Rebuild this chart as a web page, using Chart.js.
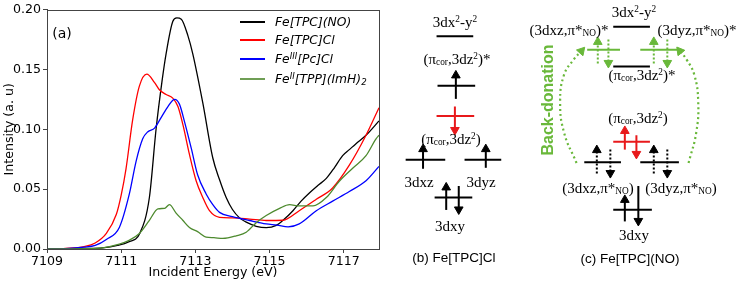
<!DOCTYPE html>
<html><head><meta charset="utf-8">
<script src="https://cdn.jsdelivr.net/npm/chart.js@4"></script>
<style>
body{margin:0;width:738px;height:282px;position:relative;background:#fff;overflow:hidden}
.lbl{position:absolute;transform:translate(-50%,-50%);white-space:nowrap;line-height:1;color:#000}
.serif{font-family:"Liberation Serif","Times New Roman",serif;font-size:15px}
.sans{font-family:"Liberation Sans",Arial,sans-serif;font-size:13.5px}
.lbl sup{font-size:0.62em;vertical-align:0.5em;line-height:0}
.lbl sub{font-size:0.62em;vertical-align:-0.15em;line-height:0}
.leg{position:absolute;font-family:"DejaVu Sans",sans-serif;font-style:italic;font-size:12.3px;white-space:nowrap;line-height:1;transform:translateY(-50%)}
.leg sup{font-size:0.7em;vertical-align:0.45em;line-height:0}
.leg sub{font-size:0.7em;vertical-align:-0.25em;line-height:0}
.legline{position:absolute;width:25px;height:1.6px}
</style></head>
<body>
<canvas id="c1" width="392" height="282" style="position:absolute;left:0;top:0"></canvas>
<canvas id="c2" width="348" height="282" style="position:absolute;left:390px;top:0"></canvas>
<div id="overlay"></div>
<script>
// ---------- spectra data (panel a) ----------
const blackE = [7109,7110,7110.5,7110.9,7111.2,7111.5,7111.76,7111.94,7112.1,7112.21,7112.39,7112.5,7112.62,7112.8,7112.93,7113.2,7113.47,7113.65,7113.83,7114.0,7114.19,7114.4,7114.64,7114.91,7115.18,7115.4,7115.63,7115.85,7116.08,7116.3,7116.53,7116.75,7116.97,7117.15,7117.33,7117.6,7117.95];
const blackI = [0,0.0005,0.001,0.003,0.006,0.013,0.043,0.100,0.140,0.163,0.190,0.193,0.192,0.178,0.163,0.122,0.076,0.058,0.043,0.033,0.026,0.022,0.019,0.0178,0.0197,0.025,0.032,0.040,0.047,0.053,0.059,0.068,0.078,0.083,0.088,0.095,0.107];
const redE = [7109,7109.5,7110,7110.3,7110.6,7110.87,7111.0,7111.13,7111.31,7111.49,7111.69,7111.9,7112.03,7112.21,7112.39,7112.53,7112.67,7112.84,7113.02,7113.2,7113.38,7113.65,7114.0,7114.46,7114.91,7115.36,7115.8,7116.26,7116.7,7117.15,7117.6,7117.95];
const redI = [0,0.0005,0.002,0.005,0.013,0.029,0.045,0.067,0.108,0.136,0.146,0.139,0.133,0.129,0.126,0.119,0.103,0.079,0.057,0.043,0.032,0.0265,0.026,0.025,0.0238,0.024,0.032,0.0415,0.051,0.070,0.095,0.118];
const blueE = [7109,7109.5,7110,7110.3,7110.6,7110.95,7111.22,7111.4,7111.58,7111.72,7111.9,7112.08,7112.26,7112.44,7112.57,7112.71,7112.89,7113.06,7113.29,7113.47,7113.65,7114.0,7114.46,7114.91,7115.2,7115.5,7115.8,7116.26,7116.7,7117.15,7117.6,7117.95];
const blueI = [0,0.0003,0.0015,0.003,0.008,0.018,0.046,0.073,0.092,0.098,0.101,0.110,0.119,0.125,0.121,0.106,0.084,0.062,0.046,0.037,0.0306,0.027,0.0238,0.021,0.020,0.0185,0.021,0.032,0.040,0.048,0.057,0.069];
const greenE = [7109,7110,7110.5,7110.95,7111.2,7111.49,7111.76,7111.99,7112.17,7112.3,7112.48,7112.66,7112.84,7113.06,7113.29,7113.5,7113.74,7114.1,7114.37,7114.64,7114.91,7115.27,7115.54,7115.8,7116.17,7116.53,7116.88,7117.24,7117.6,7117.87,7117.95];
const greenI = [0,0.0003,0.001,0.004,0.007,0.013,0.024,0.0335,0.034,0.037,0.030,0.024,0.018,0.0145,0.010,0.0095,0.0088,0.011,0.014,0.022,0.028,0.034,0.037,0.036,0.036,0.043,0.0566,0.0675,0.078,0.092,0.095];
const seriesNames = ['Fe[TPC](NO)','Fe[TPC]Cl','Fe<sup>III</sup>[Pc]Cl','Fe<sup>II</sup>[TPP](ImH)<sub>2</sub>'];
const xTicks = [7109,7111,7113,7115,7117];
const yTicks = [0,0.05,0.10,0.15,0.20];

// ---------- level diagram data (panels b, c) in diagram units ----------
// levels: [x1, x2, y, color]
const levelsB = [[432,470,31.7,'k'],[433,472,83.3,'k'],[432,471,115,'r'],[400,441,160.7,'k'],[461,499,160.7,'k'],[430,469,200,'k']];
const levelsC = [[615,653,21.7,'k'],[588,622,45.7,'g'],[643,683,45.7,'g'],[615,653,63.3,'k'],[615,653,141.7,'r'],[585,623,163.3,'k'],[643,683,163.3,'k'],[615,655,212.7,'k']];
// arrows: [x, tailY, tipY, color, dotted]
const arrowsB = [[452,97,70,'k',0],[451,105,132,'r',0],[418,170,147,'k',0],[483,169,147,'k',0],[442,213,187,'k',0],[455,188,215,'k',0]];
const arrowsC = [[599,60,35,'g',1],[610,35,62,'g',1],[657,60,35,'g',1],[671,35,62,'g',1],
                 [627,150,128,'r',0],[639,135,157,'r',0],
                 [598,175,148,'k',1],[612,150,177,'k',1],[657,175,148,'k',1],[671,150,177,'k',1],
                 [627,225,200,'k',0],[641,188,227,'k',0]];
// back-donation curved arrows (x[], y[]) last point = tip
const arcLeftX = [577,564,560,564,574,582];
const arcLeftY = [164,132,100,72,56,47];
const arcRightX = [693,701,703,699,691,684];
const arcRightY = [164,132,100,72,56,47];

const COLORS = {k:'#000000', r:'#e8191b', g:'#69b83a'};

// ---------- panel (a) chart ----------
const mk = (E,I)=>E.map((e,i)=>({x:e,y:I[i]}));
const frame = {id:'frame', afterDraw(ch){const a=ch.chartArea,c=ch.ctx;c.save();c.strokeStyle='#444';c.lineWidth=1;c.strokeRect(Math.round(a.left)+0.5,Math.round(a.top)+0.5,Math.round(a.right-a.left),Math.round(a.bottom-a.top));c.restore();}};
const tickFont = {family:'"DejaVu Sans", sans-serif', size:12.6};
new Chart(document.getElementById('c1'), {
  type:'line',
  data:{datasets:[
    {data:mk(greenE,greenI),borderColor:'#4d8a2e'},
    {data:mk(blueE,blueI),borderColor:'#0000ff'},
    {data:mk(redE,redI),borderColor:'#ff0000'},
    {data:mk(blackE,blackI),borderColor:'#000000'}
  ]},
  options:{
    responsive:false, animation:false, devicePixelRatio:1,
    layout:{padding:{top:5,right:13,left:0,bottom:0}},
    plugins:{legend:{display:false},tooltip:{enabled:false}},
    elements:{point:{radius:0},line:{borderWidth:1.3,cubicInterpolationMode:'monotone'}},
    scales:{
      x:{type:'linear',min:7109,max:7117.95,
        afterBuildTicks:s=>{s.ticks=xTicks.map(v=>({value:v}));},
        afterFit:s=>{s.height=33;},
        ticks:{font:tickFont,color:'#000',padding:1,maxRotation:0,callback:v=>String(v)},
        grid:{drawOnChartArea:false,drawTicks:true,tickLength:4,color:'#444'},
        border:{display:true,color:'#444'},
        title:{display:true,text:'Incident Energy (eV)',font:{family:'"DejaVu Sans", sans-serif',size:12.6},color:'#000',padding:{top:0,bottom:1.5}}
      },
      y:{type:'linear',min:0,max:0.2,
        afterBuildTicks:s=>{s.ticks=yTicks.map(v=>({value:v}));},
        afterFit:s=>{s.width=47;},
        ticks:{font:tickFont,color:'#000',padding:2,callback:v=>Number(v).toFixed(2)},
        grid:{drawOnChartArea:false,drawTicks:true,tickLength:4,color:'#444'},
        border:{display:true,color:'#444'},
        title:{display:true,text:'Intensity (a. u)',font:{family:'"DejaVu Sans", sans-serif',size:12.6},color:'#000',padding:{top:2.5,bottom:0}}
      }
    }
  },
  plugins:[frame]
});

// ---------- panels (b),(c) diagram chart ----------
const ds = [];
const R = 5;
function addLevel(l){ds.push({data:[{x:l[0],y:l[2]},{x:l[1],y:l[2]}],borderColor:COLORS[l[3]],borderWidth:2,pointRadius:0,showLine:true});}
function addArrow(a){
  const dir = a[2] < a[1] ? -1 : 1; // -1 up
  const headY = a[2] - dir*R*0.5;
  ds.push({data:[{x:a[0],y:a[1]},{x:a[0],y:headY}],borderColor:COLORS[a[3]],borderWidth:2,borderDash:a[4]?[2,2]:[],
    showLine:true,pointRadius:[0,R],pointStyle:'triangle',pointRotation:[0,dir<0?0:180],
    pointBackgroundColor:COLORS[a[3]],pointBorderColor:COLORS[a[3]],pointBorderWidth:1});
}
function addArc(X,Y){
  const n=X.length, dx=X[n-1]-X[n-2], dy=Y[n-1]-Y[n-2];
  const rot = Math.atan2(dx,-dy)*180/Math.PI;
  ds.push({data:X.map((x,i)=>({x:x,y:Y[i]})),borderColor:COLORS.g,borderWidth:2.2,borderDash:[2,3],tension:0.45,showLine:true,
    pointRadius:X.map((_,i)=>i===n-1?R:0),pointStyle:'triangle',pointRotation:X.map((_,i)=>i===n-1?rot:0),
    pointBackgroundColor:COLORS.g,pointBorderColor:COLORS.g,pointBorderWidth:1});
}
levelsB.forEach(addLevel); levelsC.forEach(addLevel);
arrowsB.forEach(addArrow); arrowsC.forEach(addArrow);
addArc(arcLeftX,arcLeftY); addArc(arcRightX,arcRightY);
new Chart(document.getElementById('c2'),{
  type:'scatter', data:{datasets:ds},
  options:{responsive:false,animation:false,devicePixelRatio:1,
    layout:{padding:0},
    plugins:{legend:{display:false},tooltip:{enabled:false}},
    datasets:{scatter:{clip:false}},
    scales:{x:{type:'linear',display:false,min:390,max:738},y:{type:'linear',display:false,min:0,max:282,reverse:true}}}
});

// ---------- text overlay ----------
const ov = document.getElementById('overlay');
function lbl(html,x,y,cls,extra){const d=document.createElement('div');d.className='lbl '+cls;d.innerHTML=html;d.style.left=x+'px';d.style.top=y+'px';if(extra)Object.assign(d.style,extra);ov.appendChild(d);}
const PI='\u03c0';
// legend
const legColors=['#000000','#ff0000','#0000ff','#6f9e55'];
const legY=[22,40,59,79];
seriesNames.forEach((n,i)=>{
  const l=document.createElement('div');l.className='legline';l.style.left='240px';l.style.top=(legY[i]-0.8)+'px';l.style.backgroundColor=legColors[i];ov.appendChild(l);
  const t=document.createElement('div');t.className='leg';t.innerHTML=n;t.style.left='275px';t.style.top=legY[i]+'px';ov.appendChild(t);
});
lbl('(a)',62,33,'sans',{fontFamily:'"DejaVu Sans",sans-serif',fontSize:'14px'});
// panel b
lbl('3dx<sup>2</sup>-y<sup>2</sup>',455,22,'serif');
lbl('('+PI+'<sub>cor</sub>,3dz<sup>2</sup>)*',457,59,'serif');
lbl('('+PI+'<sub>cor</sub>,3dz<sup>2</sup>)',451,139,'serif');
lbl('3dxz',419,182,'serif');
lbl('3dyz',481,182,'serif');
lbl('3dxy',450,226,'serif');
lbl('(b) Fe[TPC]Cl',454,258,'sans');
// panel c
lbl('3dx<sup>2</sup>-y<sup>2</sup>',634,12,'serif');
lbl('(3dxz,'+PI+'*<sub>NO</sub>)*',569,30,'serif');
lbl('(3dyz,'+PI+'*<sub>NO</sub>)*',697,30,'serif');
lbl('('+PI+'<sub>cor</sub>,3dz<sup>2</sup>)*',642,75,'serif');
lbl('('+PI+'<sub>cor</sub>,3dz<sup>2</sup>)',638,118,'serif');
lbl('(3dxz,'+PI+'*<sub>NO</sub>)',598,188,'serif');
lbl('(3dyz,'+PI+'*<sub>NO</sub>)',681,188,'serif');
lbl('3dxy',634,235,'serif');
lbl('(c) Fe[TPC](NO)',630,259,'sans');
lbl('Back-donation',548,100,'sans',{fontWeight:'bold',fontSize:'16px',color:'#69b83a',transform:'translate(-50%,-50%) rotate(-90deg)'});
</script>
</body></html>
